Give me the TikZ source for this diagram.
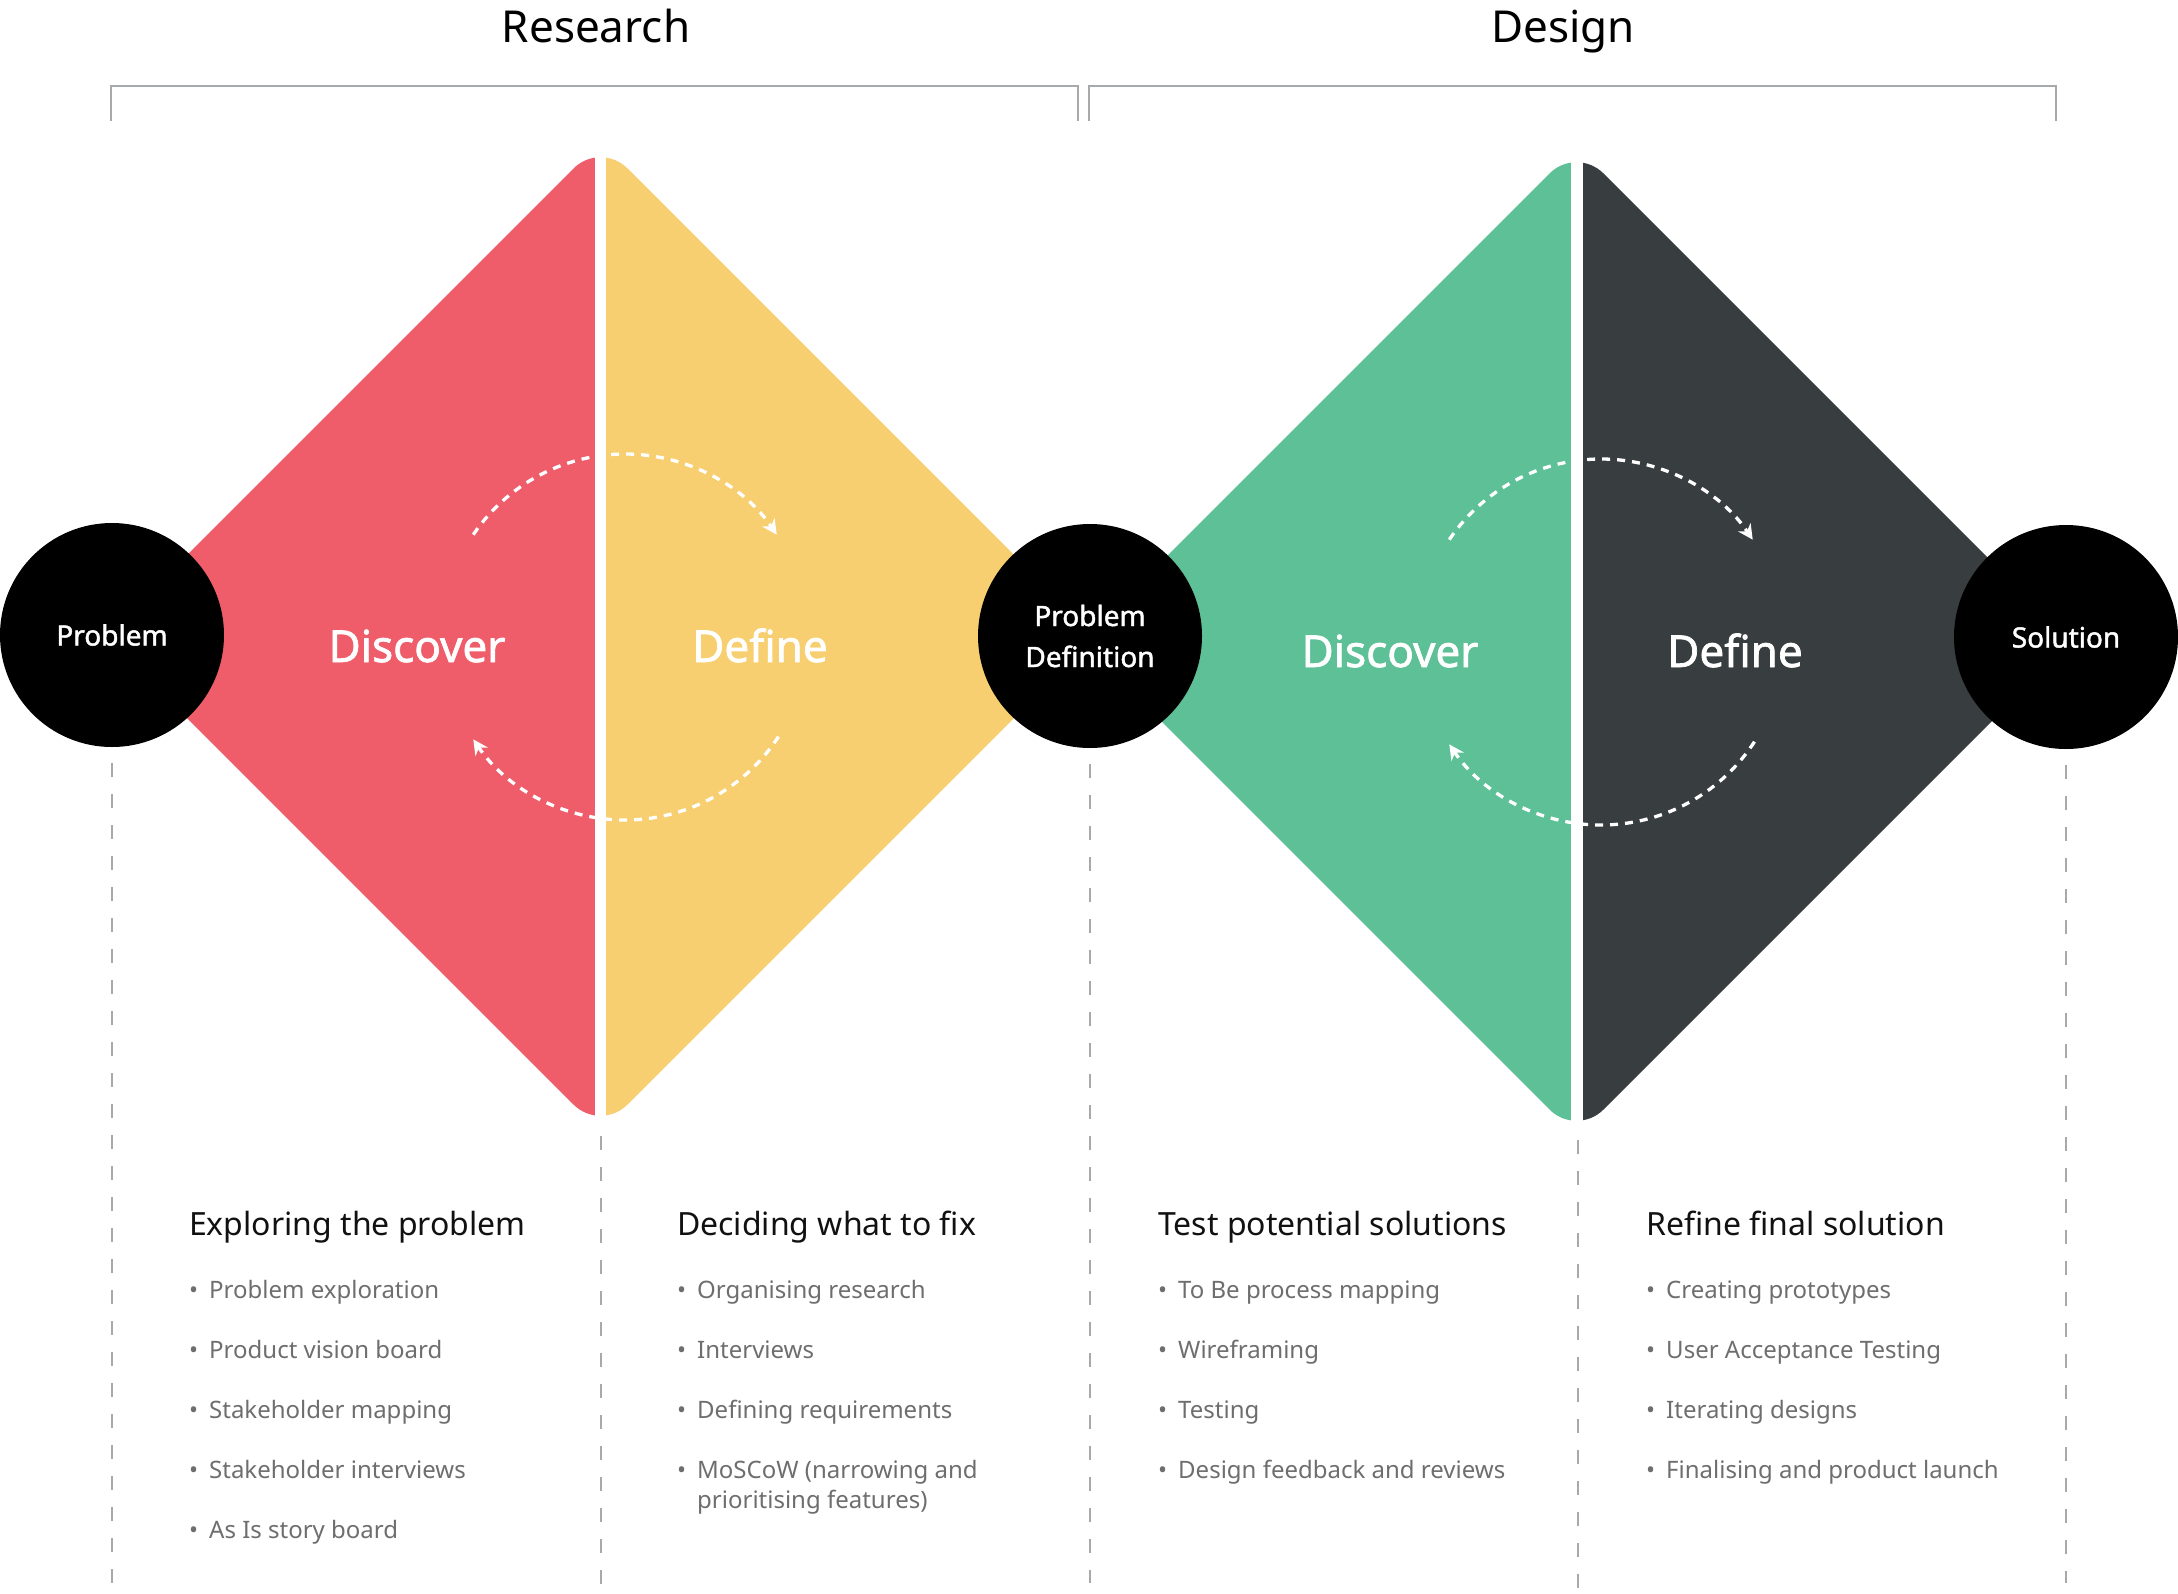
\documentclass[tikz,border=0pt]{standalone}
\usepackage{fontspec}
\setmainfont{Noto Sans}[AutoFakeBold=1.6]
\usetikzlibrary{arrows.meta}
\definecolor{cred}{HTML}{EF5D6A}
\definecolor{cyellow}{HTML}{F7CF70}
\definecolor{cgreen}{HTML}{5DC096}
\definecolor{cdark}{HTML}{383D3F}
\definecolor{cgray}{HTML}{A7AAAD}
\definecolor{ctext}{HTML}{6E6E6E}
\definecolor{chead}{HTML}{111111}
\begin{document}
\begin{tikzpicture}[x=1pt,y=1pt,
  titletext/.style={font=\fontsize{44}{52}\selectfont, anchor=base, inner sep=0pt, text=black},
  phase/.style={font=\fontsize{44}{52}\selectfont\bfseries, text=white, anchor=base, inner sep=0pt},
  endpoint/.style={circle, fill=black, minimum size=224pt, inner sep=0pt, text=white,
    font=\fontsize{28}{41}\selectfont\bfseries, align=center},
  colhead/.style={font=\fontsize{32}{38}\selectfont, anchor=base west, inner sep=0pt, text=chead},
  item/.style={font=\fontsize{24}{30}\selectfont, anchor=base west, inner sep=0pt, text=ctext, align=left},
  guide/.style={draw=cgray, line width=2.3pt, dash pattern=on 14pt off 17pt},
  bracket/.style={draw=cgray, line width=2.3pt},
  loop/.style={draw=white, line width=3.3pt, dash pattern=on 8pt off 7pt, -{Stealth[length=15pt,width=15pt]}}
]
\useasboundingbox (0,0) rectangle (2178,-1593);
\fill[white] (0,0) rectangle (2178,-1593);

% titles and brackets
\node[titletext] (research) at (596,-42) {Research};
\node[titletext] (design) at (1563,-42) {Design};
\draw[bracket] (111,-121) -- (111,-86) -- (1078,-86) -- (1078,-121);
\draw[bracket] (1089,-121) -- (1089,-86) -- (2056,-86) -- (2056,-121);

% first diamond
\begin{scope}
\clip[rounded corners=38pt] (353,-389) -- (600.5,-141.5) -- (1095.5,-636.5) -- (600.5,-1131.5) -- (105.5,-636.5) -- cycle;
\fill[cred] (90,-100) rectangle (600.5,-1150);
\fill[cyellow] (600.5,-100) rectangle (1110,-1150);
\end{scope}
\fill[white] (595,-100) rectangle (606,-1150);

% second diamond
\begin{scope}
\clip[rounded corners=38pt] (1329,-394) -- (1576.5,-146.5) -- (2071.5,-641.5) -- (1576.5,-1136.5) -- (1081.5,-641.5) -- cycle;
\fill[cgreen] (1070,-100) rectangle (1576.5,-1150);
\fill[cdark] (1576.5,-100) rectangle (2090,-1150);
\end{scope}
\fill[white] (1570.5,-100) rectangle (1582.5,-1150);

% loop arrows
\draw[loop] (625,-637) ++(146:183) arc[start angle=146, end angle=34, radius=183];
\draw[loop] (625,-637) ++(-33:183) arc[start angle=-33, end angle=-146, radius=183];
\draw[loop] (1601,-642) ++(146:183) arc[start angle=146, end angle=34, radius=183];
\draw[loop] (1601,-642) ++(-33:183) arc[start angle=-33, end angle=-146, radius=183];

% phase labels
\node[phase] (disc1) at (417,-662) {Discover};
\node[phase] (def1) at (760,-662) {Define};
\node[phase] (disc2) at (1390,-667) {Discover};
\node[phase] (def2) at (1735,-667) {Define};

% end points
\node[endpoint] (problem) at (112,-635) {Problem};
\node[endpoint] (probdef) at (1090,-636) {Problem\\Definition};
\node[endpoint] (solution) at (2066,-637) {Solution};

% guide lines
\coordinate (g1) at (112,-1583);
\coordinate (g2t) at (601,-1136);
\coordinate (g2) at (601,-1593);
\coordinate (g3) at (1090,-1583);
\coordinate (g4t) at (1578,-1140);
\coordinate (g4) at (1578,-1593);
\coordinate (g5) at (2066,-1583);
\draw[guide] ([yshift=-16pt]problem.south) -- (g1);
\draw[guide] (g2t) -- (g2);
\draw[guide] ([yshift=-16pt]probdef.south) -- (g3);
\draw[guide] (g4t) -- (g4);
\draw[guide] ([yshift=-16pt]solution.south) -- (g5);

% column 1
\node[colhead] (h1) at (189,-1235) {Exploring the problem};
\node[item] (a1) at (189,-1298) {\makebox[20pt][l]{•}Problem exploration};
\node[item] (a2) at (189,-1358) {\makebox[20pt][l]{•}Product vision board};
\node[item] (a3) at (189,-1418) {\makebox[20pt][l]{•}Stakeholder mapping};
\node[item] (a4) at (189,-1478) {\makebox[20pt][l]{•}Stakeholder interviews};
\node[item] (a5) at (189,-1538) {\makebox[20pt][l]{•}As Is story board};

% column 2
\node[colhead] (h2) at (677,-1235) {Deciding what to fix};
\node[item] (b1) at (677,-1298) {\makebox[20pt][l]{•}Organising research};
\node[item] (b2) at (677,-1358) {\makebox[20pt][l]{•}Interviews};
\node[item] (b3) at (677,-1418) {\makebox[20pt][l]{•}Defining requirements};
\node[item] (b4) at (677,-1508) {\makebox[20pt][l]{•}MoSCoW (narrowing and\\\hspace*{20pt}prioritising features)};

% column 3
\node[colhead] (h3) at (1158,-1235) {Test potential solutions};
\node[item] (c1) at (1158,-1298) {\makebox[20pt][l]{•}To Be process mapping};
\node[item] (c2) at (1158,-1358) {\makebox[20pt][l]{•}Wireframing};
\node[item] (c3) at (1158,-1418) {\makebox[20pt][l]{•}Testing};
\node[item] (c4) at (1158,-1478) {\makebox[20pt][l]{•}Design feedback and reviews};

% column 4
\node[colhead] (h4) at (1646,-1235) {Refine final solution};
\node[item] (d1) at (1646,-1298) {\makebox[20pt][l]{•}Creating prototypes};
\node[item] (d2) at (1646,-1358) {\makebox[20pt][l]{•}User Acceptance Testing};
\node[item] (d3) at (1646,-1418) {\makebox[20pt][l]{•}Iterating designs};
\node[item] (d4) at (1646,-1478) {\makebox[20pt][l]{•}Finalising and product launch};
\end{tikzpicture}
\end{document}
